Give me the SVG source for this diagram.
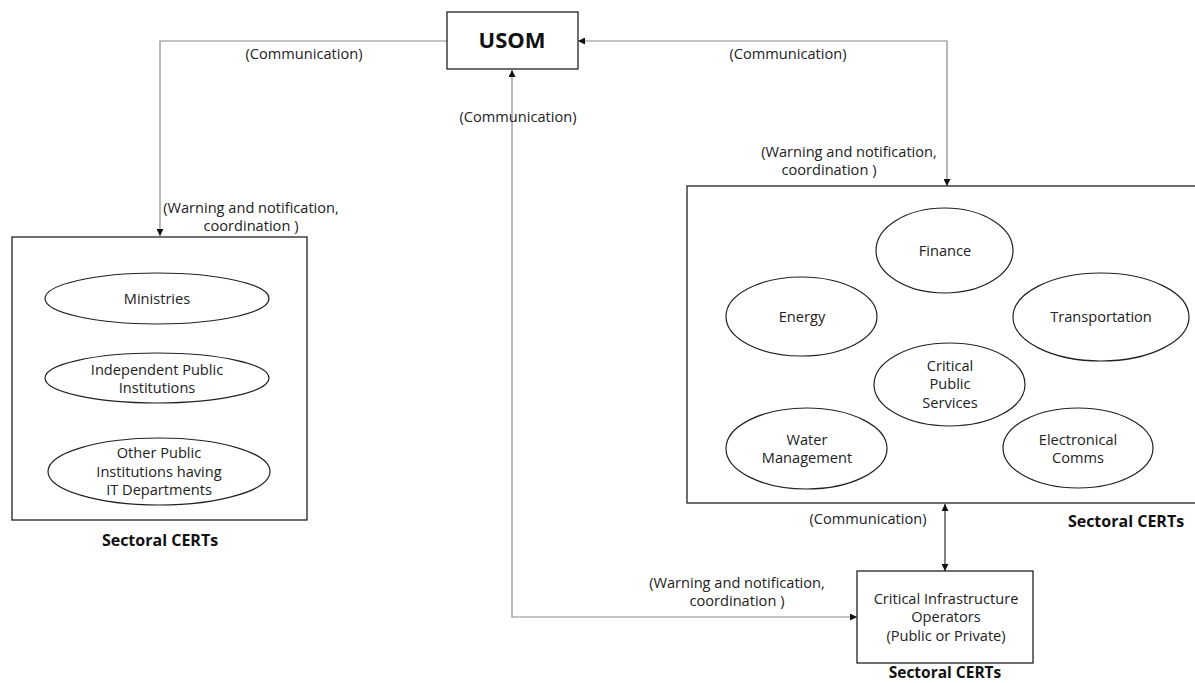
<svg xmlns="http://www.w3.org/2000/svg" width="1195" height="683" viewBox="0 0 1195 683">
<style>
.t{font-family:"Open Sans","Liberation Sans",sans-serif;font-size:14.6px;fill:#222;text-anchor:middle}
.b{font-family:"Open Sans","Liberation Sans",sans-serif;font-weight:bold;fill:#111;text-anchor:middle}
.box{fill:#fff;stroke:#222;stroke-width:1.3}
.el{fill:#fff;stroke:#222;stroke-width:1.2}
.c{fill:none;stroke:#8a8a8a;stroke-width:1.2}
</style>
<defs>
<marker id="ah" viewBox="0 0 10 10" refX="10" refY="5" markerWidth="7" markerHeight="7" markerUnits="userSpaceOnUse" orient="auto-start-reverse">
<path d="M0,0 L10,5 L0,10 Z" fill="#111"/>
</marker>
</defs>
<rect width="1195" height="683" fill="#fff"/>
<g id="connectors">
<polyline class="c" points="447,41 160,41 160,236" marker-end="url(#ah)"/>
<polyline class="c" points="578,41 947,41 947,186" marker-start="url(#ah)" marker-end="url(#ah)"/>
<polyline class="c" points="512,70 512,617 857,617" marker-start="url(#ah)" marker-end="url(#ah)"/>
<line class="c" x1="945" y1="504" x2="945" y2="571" style="stroke:#333" marker-start="url(#ah)" marker-end="url(#ah)"/>
<text class="t" x="304" y="59">(Communication)</text>
<text class="t" x="788" y="59">(Communication)</text>
<text class="t" x="518" y="122">(Communication)</text>
<text class="t" x="849" y="157">(Warning and notification,</text>
<text class="t" x="829" y="175">coordination )</text>
<text class="t" x="251" y="213">(Warning and notification,</text>
<text class="t" x="251" y="231">coordination )</text>
<text class="t" x="868" y="524">(Communication)</text>
<text class="t" x="737" y="588">(Warning and notification,</text>
<text class="t" x="737" y="606">coordination )</text>
</g>
<g id="usom">
<rect class="box" x="447" y="12" width="131" height="57"/>
<text class="b" x="512" y="48" font-size="22">USOM</text>
</g>
<g id="left-certs">
<rect class="box" x="12" y="237" width="295" height="283"/>
<text class="b" x="160" y="546" font-size="16">Sectoral CERTs</text>
</g>
<g id="ministries">
<ellipse class="el" cx="157" cy="298.5" rx="112" ry="25.5"/>
<text class="t" x="157" y="304">Ministries</text>
</g>
<g id="independent">
<ellipse class="el" cx="157" cy="378" rx="112" ry="25"/>
<text class="t" x="157" y="375">Independent Public</text>
<text class="t" x="157" y="393">Institutions</text>
</g>
<g id="other">
<ellipse class="el" cx="159" cy="471.5" rx="111" ry="33.5"/>
<text class="t" x="159" y="458">Other Public</text>
<text class="t" x="159" y="477">Institutions having</text>
<text class="t" x="159" y="495">IT Departments</text>
</g>
<g id="right-certs">
<rect class="box" x="687" y="186" width="520" height="317"/>
<text class="b" x="1126" y="527" font-size="16">Sectoral CERTs</text>
</g>
<g id="finance">
<ellipse class="el" cx="944.5" cy="250.5" rx="68.5" ry="42.5"/>
<text class="t" x="945" y="256">Finance</text>
</g>
<g id="energy">
<ellipse class="el" cx="801.5" cy="316.5" rx="75.5" ry="39.5"/>
<text class="t" x="802" y="322">Energy</text>
</g>
<g id="transportation">
<ellipse class="el" cx="1101" cy="317" rx="88" ry="44"/>
<text class="t" x="1101" y="322">Transportation</text>
</g>
<g id="critical-public">
<ellipse class="el" cx="949.5" cy="384.5" rx="75.5" ry="41.5"/>
<text class="t" x="950" y="371">Critical</text>
<text class="t" x="950" y="389">Public</text>
<text class="t" x="950" y="408">Services</text>
</g>
<g id="water">
<ellipse class="el" cx="806.5" cy="448.5" rx="80.5" ry="40.5"/>
<text class="t" x="807" y="445">Water</text>
<text class="t" x="807" y="463">Management</text>
</g>
<g id="electronical">
<ellipse class="el" cx="1078" cy="448" rx="75" ry="40"/>
<text class="t" x="1078" y="445">Electronical</text>
<text class="t" x="1078" y="463">Comms</text>
</g>
<g id="operators">
<rect class="box" x="857" y="571" width="176" height="92"/>
<text class="t" x="946" y="604">Critical Infrastructure</text>
<text class="t" x="946" y="622">Operators</text>
<text class="t" x="946" y="641">(Public or Private)</text>
<text class="b" x="945" y="678" font-size="15.5">Sectoral CERTs</text>
</g>
</svg>
